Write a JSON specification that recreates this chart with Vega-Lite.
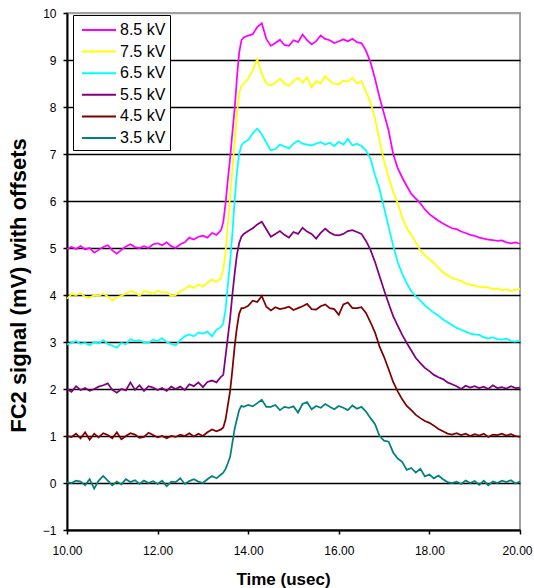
{
  "$schema": "https://vega.github.io/schema/vega-lite/v6.json",
  "width": 453,
  "height": 517,
  "autosize": {"type": "none"},
  "padding": {"left": 67, "top": 13, "right": 14, "bottom": 58},
  "background": "white",
  "config": {"font": "Liberation Sans", "view": {"stroke": "#a0a0a0", "strokeWidth": 2}},
  "data": {"values": [
    {"t":10.0,"a":0.02,"b":1.00,"c":2.00,"d":2.95,"e":3.92,"f":4.98},
    {"t":10.1,"a":0.00,"b":0.98,"c":1.94,"d":2.98,"e":4.02,"f":5.02},
    {"t":10.2,"a":0.05,"b":1.05,"c":2.06,"d":3.02,"e":4.00,"f":4.98},
    {"t":10.3,"a":0.03,"b":0.95,"c":1.98,"d":2.96,"e":4.04,"f":5.04},
    {"t":10.4,"a":-0.05,"b":1.08,"c":2.02,"d":2.98,"e":3.96,"f":4.97},
    {"t":10.5,"a":0.08,"b":0.92,"c":1.96,"d":2.93,"e":3.94,"f":5.00},
    {"t":10.6,"a":-0.12,"b":1.05,"c":2.00,"d":3.00,"e":4.00,"f":4.90},
    {"t":10.7,"a":0.05,"b":0.97,"c":2.05,"d":2.97,"e":3.98,"f":4.96},
    {"t":10.8,"a":0.15,"b":1.06,"c":2.08,"d":3.04,"e":4.03,"f":5.02},
    {"t":10.9,"a":0.05,"b":1.02,"c":2.12,"d":2.96,"e":3.97,"f":5.06},
    {"t":11.0,"a":-0.05,"b":0.95,"c":1.98,"d":2.92,"e":3.88,"f":4.95},
    {"t":11.1,"a":0.03,"b":1.08,"c":1.92,"d":2.88,"e":3.95,"f":4.88},
    {"t":11.2,"a":-0.03,"b":0.93,"c":2.00,"d":2.98,"e":3.98,"f":4.96},
    {"t":11.3,"a":0.08,"b":1.00,"c":1.97,"d":2.95,"e":4.03,"f":5.03},
    {"t":11.4,"a":0.02,"b":1.06,"c":2.14,"d":3.06,"e":4.08,"f":5.08},
    {"t":11.5,"a":0.06,"b":1.03,"c":1.98,"d":3.02,"e":4.05,"f":5.02},
    {"t":11.6,"a":-0.02,"b":0.96,"c":2.08,"d":3.04,"e":3.98,"f":5.00},
    {"t":11.7,"a":0.05,"b":0.98,"c":1.96,"d":2.99,"e":4.08,"f":5.04},
    {"t":11.8,"a":0.00,"b":1.07,"c":2.06,"d":2.98,"e":4.06,"f":5.00},
    {"t":11.9,"a":0.04,"b":1.02,"c":2.03,"d":3.05,"e":4.02,"f":5.08},
    {"t":12.0,"a":-0.02,"b":0.97,"c":1.98,"d":3.02,"e":4.09,"f":5.10},
    {"t":12.1,"a":0.05,"b":1.00,"c":2.02,"d":3.08,"e":4.05,"f":5.06},
    {"t":12.2,"a":-0.07,"b":0.95,"c":1.96,"d":3.00,"e":4.06,"f":5.12},
    {"t":12.3,"a":0.03,"b":1.00,"c":2.05,"d":2.96,"e":3.98,"f":5.04},
    {"t":12.4,"a":0.02,"b":0.98,"c":2.00,"d":2.93,"e":4.00,"f":5.00},
    {"t":12.5,"a":0.10,"b":1.03,"c":2.05,"d":3.04,"e":4.08,"f":5.08},
    {"t":12.6,"a":-0.02,"b":1.00,"c":1.98,"d":3.12,"e":4.12,"f":5.12},
    {"t":12.7,"a":0.04,"b":1.06,"c":2.10,"d":3.16,"e":4.20,"f":5.22},
    {"t":12.8,"a":0.08,"b":0.99,"c":2.06,"d":3.12,"e":4.15,"f":5.18},
    {"t":12.9,"a":0.03,"b":1.05,"c":2.14,"d":3.20,"e":4.22,"f":5.24},
    {"t":13.0,"a":0.00,"b":1.00,"c":2.04,"d":3.18,"e":4.18,"f":5.26},
    {"t":13.1,"a":0.08,"b":1.08,"c":2.15,"d":3.22,"e":4.26,"f":5.22},
    {"t":13.2,"a":0.15,"b":1.14,"c":2.18,"d":3.12,"e":4.33,"f":5.32},
    {"t":13.3,"a":0.10,"b":1.10,"c":2.14,"d":3.26,"e":4.28,"f":5.28},
    {"t":13.4,"a":0.18,"b":1.14,"c":2.26,"d":3.32,"e":4.36,"f":5.38},
    {"t":13.45,"a":0.22,"b":1.18,"c":2.30,"d":3.40,"e":4.55,"f":5.55},
    {"t":13.5,"a":0.30,"b":1.35,"c":2.70,"d":3.70,"e":4.90,"f":5.95},
    {"t":13.55,"a":0.42,"b":1.65,"c":3.10,"d":4.20,"e":5.50,"f":6.45},
    {"t":13.6,"a":0.55,"b":1.95,"c":3.50,"d":4.70,"e":6.10,"f":6.90},
    {"t":13.65,"a":0.85,"b":2.40,"c":4.00,"d":5.30,"e":6.65,"f":7.45},
    {"t":13.7,"a":1.15,"b":2.90,"c":4.45,"d":6.00,"e":7.25,"f":7.95},
    {"t":13.75,"a":1.35,"b":3.30,"c":4.85,"d":6.60,"e":7.85,"f":8.60},
    {"t":13.8,"a":1.55,"b":3.60,"c":5.10,"d":7.00,"e":8.28,"f":9.15},
    {"t":13.85,"a":1.64,"b":3.72,"c":5.24,"d":7.18,"e":8.45,"f":9.42},
    {"t":13.9,"a":1.62,"b":3.72,"c":5.30,"d":7.24,"e":8.50,"f":9.48},
    {"t":14.0,"a":1.66,"b":3.77,"c":5.36,"d":7.30,"e":8.60,"f":9.52},
    {"t":14.1,"a":1.63,"b":3.88,"c":5.42,"d":7.44,"e":8.78,"f":9.55},
    {"t":14.2,"a":1.70,"b":3.85,"c":5.50,"d":7.54,"e":9.02,"f":9.70},
    {"t":14.3,"a":1.77,"b":3.98,"c":5.56,"d":7.42,"e":8.70,"f":9.78},
    {"t":14.4,"a":1.62,"b":3.75,"c":5.40,"d":7.24,"e":8.50,"f":9.45},
    {"t":14.5,"a":1.62,"b":3.67,"c":5.24,"d":7.08,"e":8.46,"f":9.30},
    {"t":14.6,"a":1.66,"b":3.74,"c":5.30,"d":7.10,"e":8.52,"f":9.36},
    {"t":14.7,"a":1.55,"b":3.70,"c":5.36,"d":7.20,"e":8.60,"f":9.43},
    {"t":14.8,"a":1.62,"b":3.72,"c":5.28,"d":7.16,"e":8.50,"f":9.32},
    {"t":14.9,"a":1.60,"b":3.75,"c":5.22,"d":7.12,"e":8.45,"f":9.30},
    {"t":15.0,"a":1.63,"b":3.68,"c":5.34,"d":7.22,"e":8.55,"f":9.42},
    {"t":15.1,"a":1.50,"b":3.72,"c":5.30,"d":7.28,"e":8.62,"f":9.38},
    {"t":15.2,"a":1.68,"b":3.76,"c":5.43,"d":7.22,"e":8.52,"f":9.54},
    {"t":15.3,"a":1.72,"b":3.81,"c":5.35,"d":7.20,"e":8.63,"f":9.42},
    {"t":15.4,"a":1.57,"b":3.70,"c":5.30,"d":7.18,"e":8.42,"f":9.33},
    {"t":15.5,"a":1.64,"b":3.69,"c":5.20,"d":7.22,"e":8.55,"f":9.40},
    {"t":15.6,"a":1.60,"b":3.76,"c":5.32,"d":7.25,"e":8.50,"f":9.52},
    {"t":15.7,"a":1.68,"b":3.80,"c":5.41,"d":7.20,"e":8.66,"f":9.45},
    {"t":15.8,"a":1.62,"b":3.72,"c":5.33,"d":7.24,"e":8.55,"f":9.42},
    {"t":15.9,"a":1.57,"b":3.70,"c":5.28,"d":7.17,"e":8.50,"f":9.36},
    {"t":16.0,"a":1.64,"b":3.58,"c":5.27,"d":7.26,"e":8.48,"f":9.40},
    {"t":16.1,"a":1.60,"b":3.80,"c":5.30,"d":7.20,"e":8.56,"f":9.44},
    {"t":16.2,"a":1.55,"b":3.84,"c":5.36,"d":7.32,"e":8.54,"f":9.40},
    {"t":16.3,"a":1.65,"b":3.72,"c":5.38,"d":7.18,"e":8.62,"f":9.45},
    {"t":16.4,"a":1.58,"b":3.72,"c":5.34,"d":7.22,"e":8.50,"f":9.38},
    {"t":16.5,"a":1.62,"b":3.74,"c":5.30,"d":7.17,"e":8.55,"f":9.36},
    {"t":16.6,"a":1.52,"b":3.62,"c":5.15,"d":7.08,"e":8.32,"f":9.20},
    {"t":16.7,"a":1.38,"b":3.42,"c":4.96,"d":6.90,"e":8.10,"f":8.95},
    {"t":16.8,"a":1.25,"b":3.20,"c":4.70,"d":6.55,"e":7.75,"f":8.60},
    {"t":16.9,"a":1.00,"b":2.90,"c":4.40,"d":6.25,"e":7.28,"f":8.20},
    {"t":17.0,"a":0.90,"b":2.68,"c":4.10,"d":5.85,"e":6.85,"f":7.85},
    {"t":17.1,"a":0.88,"b":2.42,"c":3.82,"d":5.45,"e":6.50,"f":7.50},
    {"t":17.2,"a":0.65,"b":2.15,"c":3.55,"d":5.05,"e":6.20,"f":7.00},
    {"t":17.3,"a":0.52,"b":1.95,"c":3.35,"d":4.70,"e":5.95,"f":6.70},
    {"t":17.4,"a":0.45,"b":1.78,"c":3.15,"d":4.45,"e":5.65,"f":6.50},
    {"t":17.5,"a":0.28,"b":1.64,"c":2.98,"d":4.25,"e":5.42,"f":6.32},
    {"t":17.6,"a":0.32,"b":1.55,"c":2.82,"d":4.08,"e":5.28,"f":6.15},
    {"t":17.7,"a":0.22,"b":1.45,"c":2.66,"d":3.97,"e":5.12,"f":6.05},
    {"t":17.8,"a":0.30,"b":1.38,"c":2.55,"d":3.88,"e":4.95,"f":5.95},
    {"t":17.9,"a":0.14,"b":1.32,"c":2.45,"d":3.78,"e":4.85,"f":5.82},
    {"t":18.0,"a":0.18,"b":1.28,"c":2.38,"d":3.70,"e":4.76,"f":5.72},
    {"t":18.1,"a":0.10,"b":1.22,"c":2.30,"d":3.62,"e":4.68,"f":5.65},
    {"t":18.2,"a":0.16,"b":1.15,"c":2.25,"d":3.56,"e":4.58,"f":5.58},
    {"t":18.3,"a":0.08,"b":1.10,"c":2.21,"d":3.48,"e":4.48,"f":5.52},
    {"t":18.4,"a":0.02,"b":1.05,"c":2.14,"d":3.42,"e":4.42,"f":5.47},
    {"t":18.5,"a":0.00,"b":1.03,"c":2.10,"d":3.36,"e":4.36,"f":5.42},
    {"t":18.6,"a":0.03,"b":1.06,"c":2.06,"d":3.30,"e":4.33,"f":5.40},
    {"t":18.7,"a":-0.02,"b":1.02,"c":2.00,"d":3.26,"e":4.30,"f":5.35},
    {"t":18.8,"a":0.05,"b":1.05,"c":2.07,"d":3.22,"e":4.24,"f":5.32},
    {"t":18.9,"a":0.00,"b":1.00,"c":2.03,"d":3.18,"e":4.22,"f":5.28},
    {"t":19.0,"a":0.04,"b":1.04,"c":2.06,"d":3.16,"e":4.20,"f":5.26},
    {"t":19.1,"a":-0.04,"b":1.01,"c":2.02,"d":3.15,"e":4.18,"f":5.22},
    {"t":19.2,"a":0.05,"b":1.05,"c":2.05,"d":3.10,"e":4.17,"f":5.20},
    {"t":19.3,"a":-0.05,"b":0.98,"c":2.00,"d":3.08,"e":4.16,"f":5.18},
    {"t":19.4,"a":0.03,"b":1.03,"c":2.08,"d":3.10,"e":4.12,"f":5.17},
    {"t":19.5,"a":0.00,"b":1.02,"c":2.02,"d":3.06,"e":4.14,"f":5.15},
    {"t":19.6,"a":0.05,"b":1.05,"c":2.04,"d":3.05,"e":4.10,"f":5.16},
    {"t":19.7,"a":0.02,"b":1.01,"c":2.01,"d":3.07,"e":4.12,"f":5.12},
    {"t":19.8,"a":0.06,"b":1.04,"c":2.06,"d":3.02,"e":4.09,"f":5.10},
    {"t":19.9,"a":-0.01,"b":1.00,"c":2.02,"d":3.01,"e":4.11,"f":5.12},
    {"t":20.0,"a":0.03,"b":0.98,"c":2.03,"d":3.03,"e":4.13,"f":5.09}
  ]},
  "transform": [{"fold": ["f","e","d","c","b","a"], "as": ["series","value"]}],
  "mark": {"type": "line", "strokeWidth": 1.75},
  "encoding": {
    "x": {
      "field": "t", "type": "quantitative",
      "scale": {"domain": [10, 20], "nice": false, "zero": false},
      "axis": {
        "title": "Time (usec)", "values": [10, 12, 14, 16, 18, 20], "format": ".2f",
        "grid": false, "domainColor": "black", "domainWidth": 2,
        "tickColor": "black", "tickSize": 4, "tickWidth": 1.5,
        "labelFontSize": 12, "labelColor": "black", "labelPadding": 11, "labelFlush": false, "labelOverlap": false,
        "labelOffset": {"condition": {"test": "datum.value === 20", "value": -3}, "value": 0},
        "titleFontSize": 17, "titleFontWeight": "bold", "titleColor": "black",
        "titleX": 216, "titleY": 54, "titleAlign": "center", "titleBaseline": "alphabetic"
      }
    },
    "y": {
      "field": "value", "type": "quantitative",
      "scale": {"domain": [-1, 10], "nice": false, "zero": false},
      "axis": {
        "title": "FC2 signal (mV) with offsets", "values": [-1, 0, 1, 2, 3, 4, 5, 6, 7, 8, 9, 10],
        "grid": true,
        "gridColor": {"condition": {"test": "datum.value === 10", "value": "#a0a0a0"}, "value": "black"},
        "gridWidth": 1.5, "gridOpacity": 1,
        "domainColor": "black", "domainWidth": 2,
        "tickColor": "black", "tickSize": 4, "tickWidth": 1.5,
        "labelFontSize": 12, "labelColor": "black", "labelPadding": 7, "labelOverlap": false, "labelFlush": false,
        "titleFontSize": 22, "titleFontWeight": "bold", "titleColor": "black",
        "titleX": -49, "titleY": 272, "titleAngle": -90, "titleAlign": "center", "titleBaseline": "middle"
      }
    },
    "color": {
      "field": "series", "type": "nominal",
      "scale": {"domain": ["f","e","d","c","b","a"], "range": ["#ff00ff","#ffff00","#00ffff","#800080","#800000","#008080"]},
      "legend": {
        "title": null, "orient": "none", "legendX": 6, "legendY": 2, "direction": "vertical",
        "symbolType": "M-1.7,0H1.7", "symbolSize": 400, "symbolStrokeWidth": 2,
        "symbolOffset": 11, "labelOffset": 10,
        "labelFontSize": 16, "labelColor": "black", "labelFont": "Liberation Sans",
        "rowPadding": 2.6, "padding": 4, "strokeColor": "black", "fillColor": "white",
        "labelExpr": "{'f':'8.5 kV\u00a0\u00a0','e':'7.5 kV\u00a0\u00a0','d':'6.5 kV\u00a0\u00a0','c':'5.5 kV\u00a0\u00a0','b':'4.5 kV\u00a0\u00a0','a':'3.5 kV\u00a0\u00a0'}[datum.label]"
      }
    }
  }
}
